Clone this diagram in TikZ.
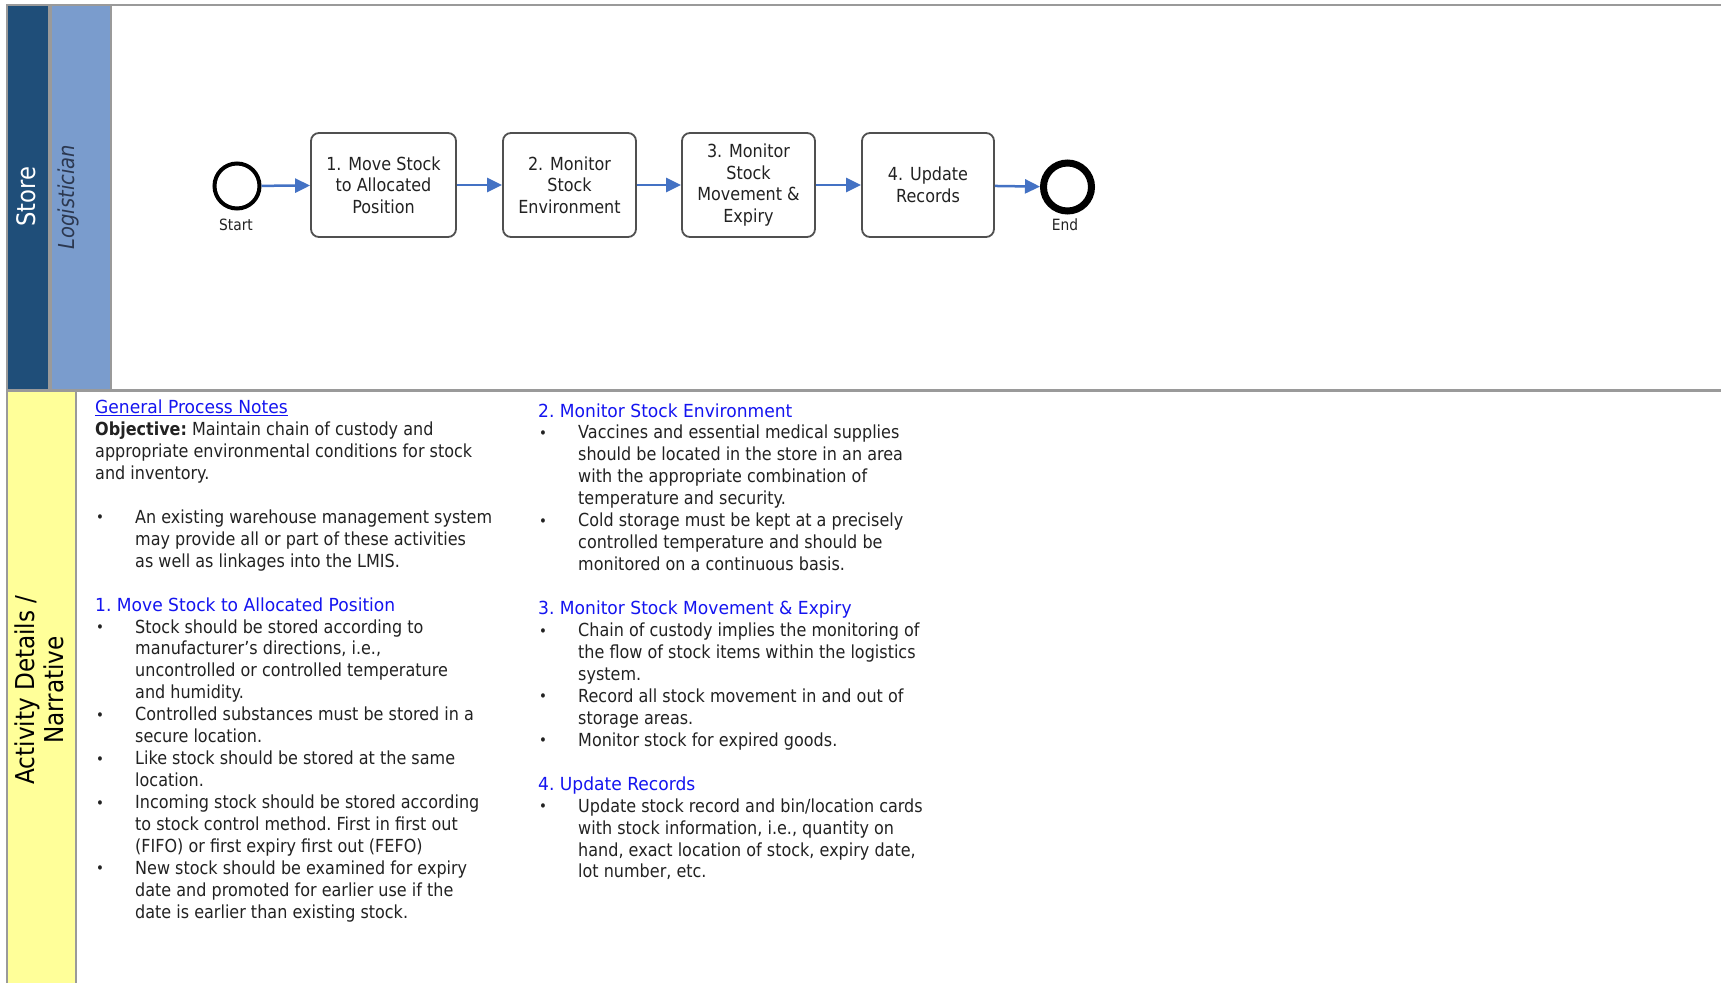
\documentclass[tikz,border=0pt]{standalone}
\usepackage{fontspec}
\setmainfont{DejaVu Sans}[FakeStretch=0.89]
\newfontfamily\headfont{DejaVu Sans}[FakeStretch=0.95]
\usetikzlibrary{arrows.meta}

\definecolor{storeblue}{HTML}{1F4E79}
\definecolor{laneblue}{HTML}{7A9CCD}
\definecolor{lanetext}{HTML}{2C3850}
\definecolor{narryellow}{HTML}{FFFF99}
\definecolor{rulegray}{HTML}{9A9A9A}
\definecolor{flowblue}{HTML}{4472C4}
\definecolor{headblue}{HTML}{1414F0}
\definecolor{bodytext}{HTML}{222222}
\definecolor{boxline}{HTML}{505050}

% note column helpers: lines inside an item are broken with \newline so the
% hanging indent of the item stays in force
\newcommand\notehead[1]{\noindent{\headfont\textcolor{headblue}{#1}}\par}
\newcommand\noteitem[1]{\hangindent=40pt\hangafter=1\noindent
  \makebox[40pt][l]{\hspace*{1pt}\raisebox{0.5pt}{\fontsize{15}{15}\selectfont\textbullet}}#1\par}
\newcommand\noteskip{\vspace*{21.95pt}}

\begin{document}
\begin{tikzpicture}[x=1pt,y=-1pt,
  bodyfont/.style={font=\fontsize{18}{21.95}\selectfont\frenchspacing, text=bodytext},
  task/.style={draw=boxline, line width=1.8pt, rounded corners=8pt, fill=white,
    minimum width=#1, minimum height=104pt, inner sep=2pt, align=center,
    font=\fontsize{18}{21.7}\selectfont, text=bodytext},
  evstart/.style={circle, draw=black, line width=4pt, minimum size=45pt, inner sep=0pt},
  evend/.style={circle, draw=black, line width=7pt, minimum size=48pt, inner sep=0pt},
  evlabel/.style={font=\fontsize{15.5}{17}\selectfont, text=bodytext, inner sep=0pt},
  flow/.style={draw=flowblue, line width=2.5pt, -{Triangle[length=15pt, width=14pt]}},
  column/.style={anchor=base west, inner sep=0pt, bodyfont}
]
\useasboundingbox (0,0) rectangle (1721,983);
\fill[white] (0,0) rectangle (1721,983);

% pool and lane headers
\fill[storeblue] (7,5) rectangle (48,390);
\fill[rulegray] (48,5) rectangle (52,390);
\fill[laneblue] (52,5) rectangle (111,390);
\draw[rulegray, line width=1.2pt] (111,5) -- (111,390);
\fill[narryellow] (8,391) rectangle (76,983);
\draw[rulegray, line width=1.2pt] (76,391) -- (76,983);

% frame lines
\draw[rulegray, line width=2pt] (6,5) -- (1721,5);
\draw[rulegray, line width=2pt] (7,4) -- (7,983);
\draw[rulegray, line width=3pt] (7,390.5) -- (1721,390.5);

% header labels
\node[rotate=90, text=white, font=\fontsize{25.5}{28}\selectfont, inner sep=0pt]
  (storelbl) at (26.5,197) {Store};
\node[rotate=90, text=lanetext, font=\fontsize{22}{24}\selectfont\itshape, inner sep=0pt]
  (rolelbl) at (68.5,197) {Logistician};
\node[rotate=90, align=center, text=black, font=\fontsize{26}{28.5}\selectfont, inner sep=0pt]
  (narrlbl) at (39.5,690) {Activity Details /\\Narrative};

% process flow
\node[evstart] (start) at (237,186) {};
\node[evlabel] (startlbl) at (236,225) {Start};
\node[task=145pt] (t1) at (383.5,185) {1. Move Stock\\to Allocated\\Position};
\node[task=133pt] (t2) at (569.5,185) {2. Monitor\\Stock\\Environment};
\node[task=133pt] (t3) at (748.5,185) {3. Monitor\\Stock\\Movement \&\\Expiry};
\node[task=132pt] (t4) at (928,185) {4. Update\\Records};
\node[evend] (end) at (1067.5,187) {};
\node[evlabel] (endlbl) at (1065,225) {End};

\draw[flow] (start) -- (t1);
\draw[flow] (t1) -- (t2);
\draw[flow] (t2) -- (t3);
\draw[flow] (t3) -- (t4);
\draw[flow] (t4) -- (end);

% narrative, left column
\node[column] (notesleft) at (95,413.5) {\parbox[t]{440pt}{
  \noindent{\headfont\textcolor{headblue}{\underline{General Process Notes}}}\par
  \noindent\textbf{Objective:} Maintain chain of custody and\newline
  appropriate environmental conditions for stock\newline
  and inventory.\par
  \noteskip
  \noteitem{An existing warehouse management system\newline
    may provide all or part of these activities\newline
    as well as linkages into the LMIS.}
  \noteskip
  \notehead{1. Move Stock to Allocated Position}
  \noteitem{Stock should be stored according to\newline
    manufacturer’s directions, i.e.,\newline
    uncontrolled or controlled temperature\newline
    and humidity.}
  \noteitem{Controlled substances must be stored in a\newline
    secure location.}
  \noteitem{Like stock should be stored at the same\newline
    location.}
  \noteitem{Incoming stock should be stored according\newline
    to stock control method. First in first out\newline
    (FIFO) or first expiry first out (FEFO)}
  \noteitem{New stock should be examined for expiry\newline
    date and promoted for earlier use if the\newline
    date is earlier than existing stock.}
}};

% narrative, right column
\node[column] (notesright) at (538,417) {\parbox[t]{440pt}{
  \notehead{2. Monitor Stock Environment}
  \noteitem{Vaccines and essential medical supplies\newline
    should be located in the store in an area\newline
    with the appropriate combination of\newline
    temperature and security.}
  \noteitem{Cold storage must be kept at a precisely\newline
    controlled temperature and should be\newline
    monitored on a continuous basis.}
  \noteskip
  \notehead{3. Monitor Stock Movement \& Expiry}
  \noteitem{Chain of custody implies the monitoring of\newline
    the flow of stock items within the logistics\newline
    system.}
  \noteitem{Record all stock movement in and out of\newline
    storage areas.}
  \noteitem{Monitor stock for expired goods.}
  \noteskip
  \notehead{4. Update Records}
  \noteitem{Update stock record and bin/location cards\newline
    with stock information, i.e., quantity on\newline
    hand, exact location of stock, expiry date,\newline
    lot number, etc.}
}};
\end{tikzpicture}
\end{document}
